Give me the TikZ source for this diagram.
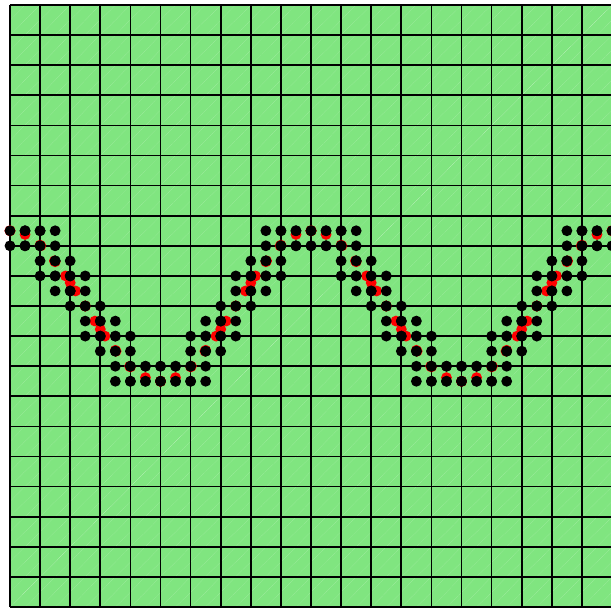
\documentclass[tikz,border=0pt]{standalone}
\usepackage{xcolor}
\usepackage{tikz}
\usetikzlibrary{calc}

\definecolor{cellgreen}{RGB}{128,229,128}

\begin{document}
\begin{tikzpicture}[x=0.5cm, y=0.5cm,
    gridline/.style={line width=1.6pt, black},
    diagline/.style={white, densely dotted, line width=0.3pt, opacity=0.6},
    vertexdot/.style={fill=black},
    cutdot/.style={fill=red}]
    \useasboundingbox (-0.664,-0.066) rectangle (39.93,40.332);

    % cells
    \fill[cellgreen] (0,0) rectangle (40,40);
    \foreach \k in {0,...,39} {
        \draw[diagline] (\k,0) -- (40,40-\k);
        \draw[diagline] (0,\k) -- (40-\k,40);
    }
    \draw[gridline] (0,0) grid (40,40);

    % curve hits on vertical lines
    \foreach \i in {0,...,40}
        \fill[cutdot] (\i,{20+5*cos(18*\i)}) circle (0.36);

    % curve hits on horizontal lines
    \foreach \k in {15,...,25} {
        \pgfmathsetmacro\t{acos((\k-20)/5)/18}
        \foreach \n in {0,20} {
            \fill[cutdot] ({\t+\n},\k) circle (0.36);
            \fill[cutdot] ({20-\t+\n},\k) circle (0.36);
        }
    }

    % corners of the cut cells
    \foreach \c in {0,...,39} {
        \pgfmathsetmacro\ya{20+5*cos(18*\c)}
        \pgfmathsetmacro\yb{20+5*cos(18*(\c+1))}
        \pgfmathtruncatemacro\lo{floor(min(\ya,\yb)+0.001)}
        \pgfmathtruncatemacro\hi{ceil(max(\ya,\yb)-0.001)}
        \pgfmathtruncatemacro\cn{\c+1}
        \foreach \r in {\lo,...,\hi} {
            \fill[vertexdot] (\c,\r) circle (0.36);
            \fill[vertexdot] (\cn,\r) circle (0.36);
        }
    }
\end{tikzpicture}
\end{document}
